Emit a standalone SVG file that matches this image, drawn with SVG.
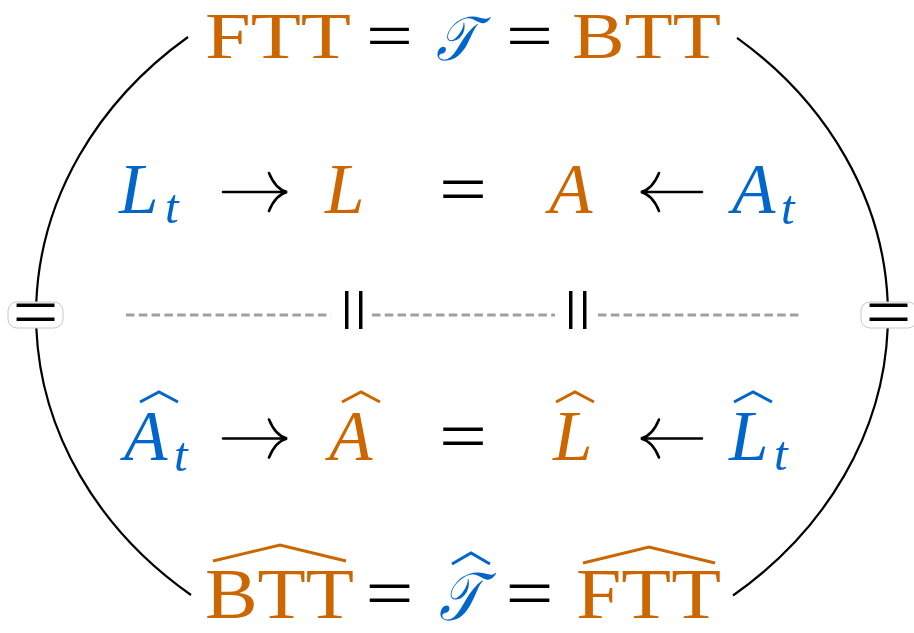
<svg xmlns="http://www.w3.org/2000/svg" width="914" height="633" viewBox="0 0 914 633">
<defs>
<style>
text{font-family:"Liberation Serif","Times New Roman",serif;}
.o{fill:#CC6600}.b{fill:#0066CC}.k{fill:#000}
.it{font-style:italic}
.big{font-size:71px}
.top{font-size:65px}
.sub{font-size:49px}
.eq{font-size:70px;fill:#000}
.eqt{font-size:65px;fill:#000}
.curve{fill:none;stroke:#000;stroke-width:2.2}
.arr{fill:none;stroke:#000;stroke-width:2.6;stroke-linecap:round}
.hato{fill:none;stroke:#CC6600;stroke-width:3;stroke-linejoin:miter}
.hatb{fill:none;stroke:#0066CC;stroke-width:3;stroke-linejoin:miter}
.dash{fill:none;stroke:#A0A0A0;stroke-width:3;stroke-dasharray:8.5 4.3}
.box{fill:#fff;stroke:#C8C8C8;stroke-width:1}
</style>
</defs>
<rect width="914" height="633" fill="#fff"/>

<g id="connectors">
  <path class="curve" d="M188 37 A426 363 0 0 0 36.3 302"/>
  <path class="curve" d="M36.3 328 A426 363 0 0 0 191 595"/>
  <path class="curve" d="M737 37.8 A426 363 0 0 1 887.7 302"/>
  <path class="curve" d="M887.7 328 A426 363 0 0 1 733 595.5"/>
  <g id="eq-left"><rect class="box" x="8" y="302" width="55" height="26" rx="9"/><text class="eq" x="35.5" y="336" text-anchor="middle" textLength="46" lengthAdjust="spacingAndGlyphs">=</text></g>
  <g id="eq-right"><rect class="box" x="861" y="302" width="56" height="26" rx="9"/><text class="eq" x="888.5" y="336" text-anchor="middle" textLength="46" lengthAdjust="spacingAndGlyphs">=</text></g>
  <path class="dash" d="M126 315 H331 M372 315 H555 M598 315 H802"/>
  <text class="eq" transform="translate(351 310) rotate(90)" x="0" y="21" text-anchor="middle" textLength="46" lengthAdjust="spacingAndGlyphs">=</text>
  <text class="eq" transform="translate(575 310) rotate(90)" x="0" y="21" text-anchor="middle" textLength="46" lengthAdjust="spacingAndGlyphs">=</text>
  <path class="arr" d="M223 192 H285 M269 173 C273 183 279 190 287 192 C279 194 273 201 269 211"/>
  <path class="arr" d="M643 192 H702 M659 173 C655 183 649 190 641 192 C649 194 655 201 659 211"/>
  <path class="arr" d="M223 438.5 H285 M269 419.5 C273 429.5 279 436.5 287 438.5 C279 440.5 273 447.5 269 457.5"/>
  <path class="arr" d="M643 438.5 H702 M659 419.5 C655 429.5 649 436.5 641 438.5 C649 440.5 655 447.5 659 457.5"/>
  <text class="eq" x="463" y="213" text-anchor="middle" textLength="48" lengthAdjust="spacingAndGlyphs">=</text>
  <text class="eq" x="463" y="459.5" text-anchor="middle" textLength="48" lengthAdjust="spacingAndGlyphs">=</text>
  <text class="eqt" x="389.5" y="58" text-anchor="middle" textLength="47" lengthAdjust="spacingAndGlyphs">=</text>
  <text class="eqt" x="529.5" y="58" text-anchor="middle" textLength="47" lengthAdjust="spacingAndGlyphs">=</text>
  <text class="eq" x="389.5" y="617" text-anchor="middle" textLength="48" lengthAdjust="spacingAndGlyphs">=</text>
  <text class="eq" x="529.5" y="617" text-anchor="middle" textLength="48" lengthAdjust="spacingAndGlyphs">=</text>
</g>

<g id="top-FTT"><text class="top o" x="205" y="58" textLength="146" lengthAdjust="spacingAndGlyphs">FTT</text></g>
<g id="top-T"><text class="b it" font-size="62" transform="translate(436 60) scale(0.84 1)" x="0" y="0">𝒯</text></g>
<g id="top-BTT"><text class="top o" x="572" y="58" textLength="149" lengthAdjust="spacingAndGlyphs">BTT</text></g>

<g id="Lt"><text class="big b it" x="119" y="213">L</text><text class="sub b it" x="165" y="223">t</text></g>
<g id="L"><text class="big o it" x="325" y="213">L</text></g>
<g id="A"><text class="big o it" x="549" y="213">A</text></g>
<g id="At"><text class="big b it" x="732" y="213">A</text><text class="sub b it" x="781" y="224">t</text></g>

<g id="hAt"><text class="big b it" x="124" y="460">A</text><text class="sub b it" x="174" y="471">t</text><path class="hatb" d="M140 402 L159 392 L178 402"/></g>
<g id="hA"><text class="big o it" x="329" y="460">A</text><path class="hato" d="M342 402 L361 392 L380 402"/></g>
<g id="hL"><text class="big o it" x="553" y="460">L</text><path class="hato" d="M556 402 L575 392 L594 402"/></g>
<g id="hLt"><text class="big b it" x="729" y="460">L</text><text class="sub b it" x="774" y="470">t</text><path class="hatb" d="M734 402 L753 392 L772 402"/></g>

<g id="bot-BTT"><text class="big o" x="205" y="618" textLength="149" lengthAdjust="spacingAndGlyphs">BTT</text><path class="hato" stroke-width="3.5" d="M213 561 L280 545 L346 561"/></g>
<g id="bot-T"><text class="b it" font-size="68" transform="translate(439 620) scale(0.8 1)" x="0" y="0">𝒯</text><path class="hatb" d="M452 564 L471 553 L490 564"/></g>
<g id="bot-FTT"><text class="big o" x="576" y="618" textLength="145" lengthAdjust="spacingAndGlyphs">FTT</text><path class="hato" stroke-width="3.5" d="M583 563 L649 547 L715 563"/></g>
</svg>
